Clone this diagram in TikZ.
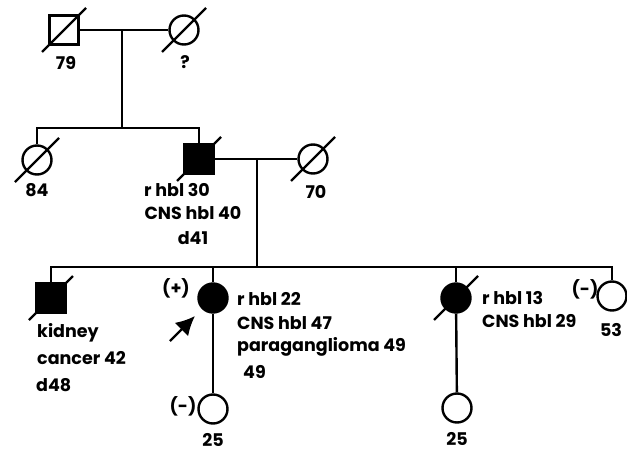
\documentclass[tikz,border=0pt]{standalone}
\usepackage{fontspec}
\setmainfont{Poppins}
\usetikzlibrary{arrows.meta}
\tikzset{
  line/.style={line width=2.4pt},
  male/.style={draw, line width=2.4pt, rectangle, minimum size=29pt, inner sep=0pt},
  female/.style={draw, line width=2.4pt, circle, minimum size=29pt, inner sep=0pt},
  aff/.style={fill=black},
  lbl/.style={font=\bfseries\fontsize{17.5}{20}\selectfont, inner sep=0pt},
}
\newcommand{\dead}[1]{\draw[line] ([shift={(-22,22)}]#1.center) -- ([shift={(22,-22)}]#1.center);}

\begin{document}
\begin{tikzpicture}[x=1pt,y=-1pt]
	\useasboundingbox (0,0) rectangle (627,452);
% generation I
	\node[male] (gf) at (64,30) {};
	\node[female] (gm) at (184,30) {};
	\draw[line] (gf) -- (gm);
	\coordinate (m1) at (122,30);
	\coordinate (s1) at (122,128);
	\draw[line] (m1) -- (s1);
		\node[lbl] (gfage) at (66,63) {79};
		\node[lbl] (gmage) at (185,62) {?};
	\dead{gf}
	\dead{gm}
%
% generation II
	\node[female] (aunt) at (37,160) {};
	\node[male,aff] (fa) at (199,159) {};
	\node[female] (mo) at (313,159) {};
	\draw[line] (aunt.north) -- (aunt.north |- s1) -- (fa.north |- s1) -- (fa.north);
	\draw[line] (fa) -- (mo);
	\coordinate (m2) at (257,159);
	\coordinate (s2) at (257,267);
	\draw[line] (m2) -- (s2);
		\node[lbl] (auntage) at (37,190) {84};
		\node[lbl] (moage) at (316,192) {70};
		\node[lbl] (fa1) at (177,190) {r hbl 30};
		\node[lbl] (fa2) at (193,213) {CNS hbl 40};
		\node[lbl] (fa3) at (193,238) {d41};
	\dead{aunt}
	\dead{fa}
	\dead{mo}
%
% generation III
	\node[male,aff] (son) at (51,298) {};
	\node[female,aff] (da) at (213,298) {};
	\node[female,aff] (db) at (456,298) {};
	\node[female] (dc) at (612,296) {};
	\draw[line] (son.north) -- (son.north |- s2) -- (dc.north |- s2) -- (dc.north);
	\draw[line] (da.north |- s2) -- (da.north);
	\draw[line] (db.north |- s2) -- (db.north);
		\node[lbl,anchor=west] (son1) at (37,333) {kidney};
		\node[lbl,anchor=west] (son2) at (37,358) {cancer 42};
		\node[lbl,anchor=west] (son3) at (36,385) {d48};
		\node[lbl] (dasign) at (176,288) {(+)};
		\node[lbl,anchor=west] (da1) at (237,299) {r hbl 22};
		\node[lbl,anchor=west] (da2) at (237,323) {CNS hbl 47};
		\node[lbl,anchor=west] (da3) at (237,347) {paraganglioma 49};
		\node[lbl,anchor=west] (da4) at (243,372) {49};
		\node[lbl,anchor=west] (db1) at (482,298) {r hbl 13};
		\node[lbl,anchor=west] (db2) at (482,321) {CNS hbl 29};
		\node[lbl] (dcsign) at (585,289) {(-)};
		\node[lbl] (dcage) at (611,330) {53};
	\dead{son}
	\dead{db}
	\coordinate (pb) at (170,341);
	\coordinate (pt) at (195,316);
	\draw[line,-{Latex[length=19pt,width=19pt]}] (pb) -- (pt);
%
% generation IV
	\node[female] (ga) at (213,409) {};
	\node[female] (gb) at (457,408) {};
	\draw[line] (da) -- (ga);
	\draw[line] (db) -- (gb);
		\node[lbl] (gasign) at (183,406) {(-)};
		\node[lbl] (gaage) at (213,440) {25};
		\node[lbl] (gbage) at (457,439) {25};
\end{tikzpicture}
\end{document}
